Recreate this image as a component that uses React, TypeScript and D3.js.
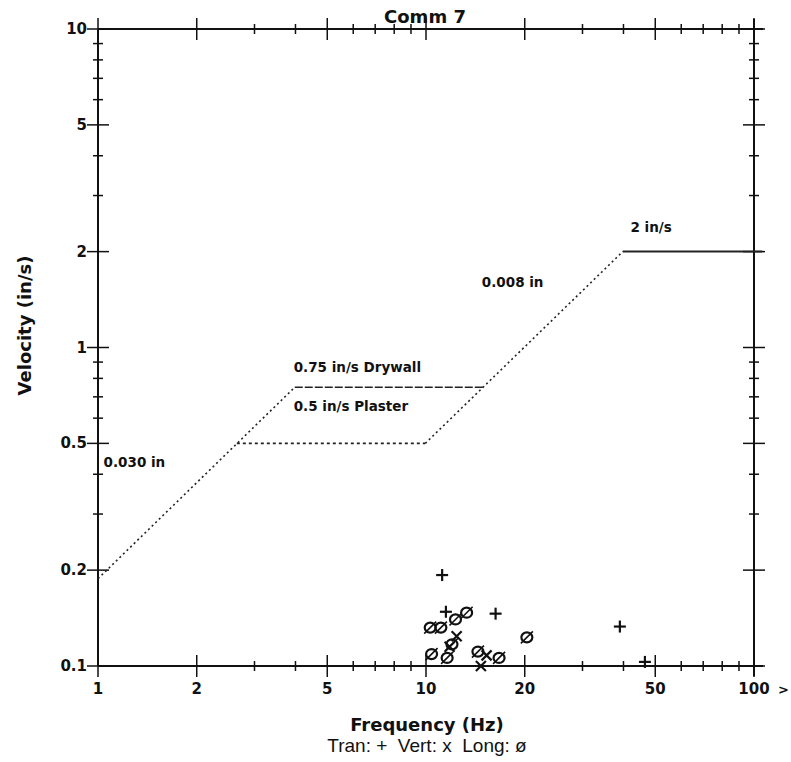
import React from "react";
import * as d3 from "d3";

// Comm 7 - vibration velocity vs frequency (log-log)

const xLabelValues = [1, 2, 5, 10, 20, 50, 100];
const yLabelValues = [0.1, 0.2, 0.5, 1, 2, 5, 10];

// limit curve pieces: [frequency, velocity]
const dispLowF = [1, 3.98];
const dispLowV = [0.188, 0.75];
const plasterF = [2.65, 9.95];
const plasterV = [0.5, 0.5];
const drywallF = [3.98, 14.9];
const drywallV = [0.75, 0.75];
const dispHighF = [9.95, 39.8];
const dispHighV = [0.5, 2];
const velHighF = [39.8, 106];
const velHighV = [2, 2];

// measured events
const tranFreq = [11.2, 11.5, 16.3, 39.0, 46.5];
const tranVel = [0.193, 0.148, 0.146, 0.133, 0.103];
const vertFreq = [12.4, 11.8, 14.7, 15.3];
const vertVel = [0.124, 0.115, 0.1, 0.108];
const longFreq = [10.3, 11.1, 12.3, 13.3, 10.4, 11.6, 12.0, 14.4, 16.7, 20.3];
const longVel = [0.132, 0.132, 0.14, 0.147, 0.109, 0.106, 0.117, 0.111, 0.106, 0.123];

const annotations = [
  { text: "0.030 in", f: 1.04, v: 0.42 },
  { text: "0.75 in/s Drywall", f: 3.95, v: 0.84 },
  { text: "0.5 in/s Plaster", f: 3.95, v: 0.63 },
  { text: "0.008 in", f: 14.8, v: 1.55 },
  { text: "2 in/s", f: 42, v: 2.3 },
];

const W = 791;
const H = 762;
const left = 98;
const right = 754;
const top = 29;
const bottom = 666;

const bold = "'DejaVu Sans', sans-serif";
const plain = "'Liberation Sans', Arial, sans-serif";

const App = () => {
  const x = d3.scaleLog().domain([1, 100]).range([left, right]);
  const y = d3.scaleLog().domain([0.1, 10]).range([bottom, top]);

  const line = (fs: number[], vs: number[]) =>
    d3
      .line<number>()
      .x((_, i) => x(fs[i]))
      .y((_, i) => y(vs[i]))(fs) || "";

  const xTicks = x.ticks();
  const yTicks = y.ticks();
  const isMajorX = (t: number) => xLabelValues.some((v) => Math.abs(v - t) < 1e-9);
  const isMajorY = (t: number) => yLabelValues.some((v) => Math.abs(v - t) < 1e-9);

  const ink = "#111";

  return (
    <svg width={W} height={H} style={{ display: "block", position: "absolute", left: 0, top: 0, background: "#fff" }}>
      {/* frame */}
      <g stroke={ink} strokeWidth={2} fill="none">
        <line x1={left} x2={right + 9} y1={top} y2={top} />
        <line x1={left} x2={right + 9} y1={bottom} y2={bottom} />
        <line x1={left} x2={left} y1={top} y2={bottom} />
        <line x1={right} x2={right} y1={top - 10} y2={bottom + 10} />
      </g>

      {/* ticks on all four sides */}
      <g stroke={ink} strokeWidth={1.5}>
        {xTicks.map((t, i) => {
          const s = isMajorX(t) ? 11 : 5;
          return (
            <g key={i}>
              <line x1={x(t)} x2={x(t)} y1={bottom - s} y2={bottom + s} />
              <line x1={x(t)} x2={x(t)} y1={top - s} y2={top + s} />
            </g>
          );
        })}
        {yTicks.map((t, i) => {
          const s = isMajorY(t) ? 11 : 5;
          return (
            <g key={i}>
              <line x1={left - s} x2={left + s} y1={y(t)} y2={y(t)} />
              <line x1={right - s} x2={right + s} y1={y(t)} y2={y(t)} />
            </g>
          );
        })}
      </g>

      {/* tick labels */}
      <g fontFamily={bold} fontWeight="bold" fontSize={15} fill={ink}>
        {xLabelValues.map((v) => (
          <text key={v} x={x(v)} y={bottom + 28} textAnchor="middle">
            {v}
          </text>
        ))}
        {yLabelValues.map((v) => (
          <text key={v} x={left - 11} y={y(v) + 5} textAnchor="end">
            {v}
          </text>
        ))}
        <text x={778} y={bottom + 28} fontSize={13}>&gt;</text>
      </g>

      {/* limit curves */}
      <g fill="none" stroke="#222">
        <path d={line(dispLowF, dispLowV)} strokeWidth={1.6} strokeDasharray="2 3" />
        <path d={line(plasterF, plasterV)} strokeWidth={1.6} strokeDasharray="3 3" />
        <path d={line(drywallF, drywallV)} strokeWidth={1.4} strokeDasharray="8 2" />
        <path d={line(dispHighF, dispHighV)} strokeWidth={1.6} strokeDasharray="2 3" />
        <path d={line(velHighF, velHighV)} strokeWidth={2} />
      </g>

      {/* annotations */}
      <g fontFamily={bold} fontWeight="bold" fontSize={13.5} fill={ink}>
        {annotations.map((a) => (
          <text key={a.text} x={x(a.f)} y={y(a.v)}>
            {a.text}
          </text>
        ))}
      </g>

      {/* Tran: + */}
      <g stroke={ink} strokeWidth={2.2}>
        {tranFreq.map((f, i) => {
          const cx = x(f);
          const cy = y(tranVel[i]);
          return (
            <g key={i}>
              <line x1={cx - 6} x2={cx + 6} y1={cy} y2={cy} />
              <line x1={cx} x2={cx} y1={cy - 6} y2={cy + 6} />
            </g>
          );
        })}
      </g>

      {/* Vert: x */}
      <g stroke={ink} strokeWidth={2.2}>
        {vertFreq.map((f, i) => {
          const cx = x(f);
          const cy = y(vertVel[i]);
          return (
            <g key={i}>
              <line x1={cx - 5} x2={cx + 5} y1={cy - 5} y2={cy + 5} />
              <line x1={cx - 5} x2={cx + 5} y1={cy + 5} y2={cy - 5} />
            </g>
          );
        })}
      </g>

      {/* Long: ø */}
      <g stroke={ink} fill="none">
        {longFreq.map((f, i) => {
          const cx = x(f);
          const cy = y(longVel[i]);
          return (
            <g key={i}>
              <ellipse cx={cx} cy={cy} rx={5.5} ry={5} strokeWidth={2.2} />
              <line x1={cx - 6} x2={cx + 6} y1={cy + 6} y2={cy - 6} strokeWidth={1.6} />
            </g>
          );
        })}
      </g>

      {/* titles */}
      <text x={425} y={23} textAnchor="middle" fontFamily={bold} fontWeight="bold" fontSize={18} fill={ink}>
        Comm 7
      </text>
      <text
        transform={`translate(31, ${(top + bottom) / 2 - 22}) rotate(-90)`}
        textAnchor="middle"
        fontFamily={bold}
        fontWeight="bold"
        fontSize={18}
        fill={ink}
      >
        Velocity (in/s)
      </text>
      <text x={427} y={731} textAnchor="middle" fontFamily={bold} fontWeight="bold" fontSize={18} fill={ink}>
        Frequency (Hz)
      </text>
      <text x={427} y={752} textAnchor="middle" fontFamily={plain} fontSize={19} fill={ink} xmlSpace="preserve">
        Tran: +  Vert: x  Long: ø
      </text>
    </svg>
  );
};

export default App;
